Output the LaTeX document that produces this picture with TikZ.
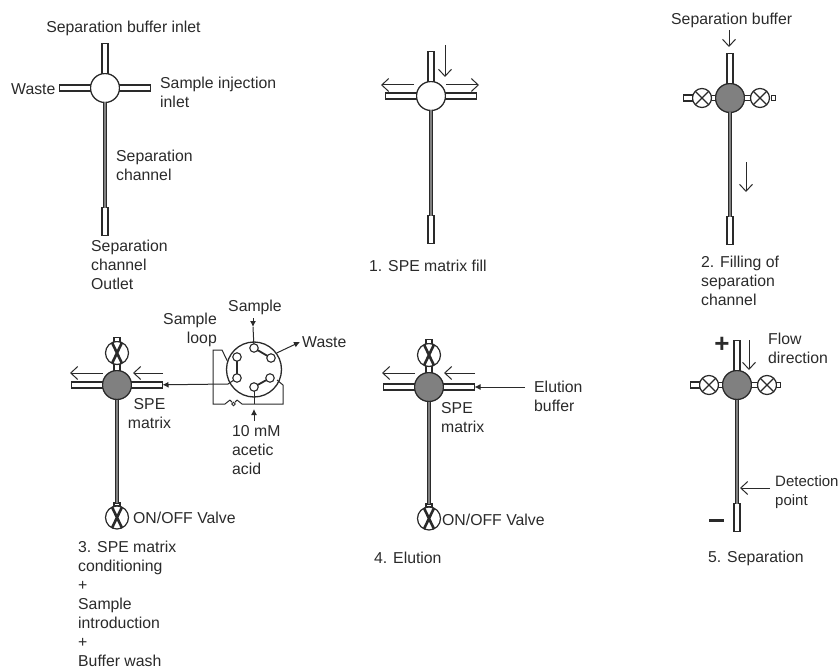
\documentclass[tikz,border=0pt]{standalone}
\usepackage{fontspec}
\setmainfont{Liberation Sans}
\usetikzlibrary{positioning,arrows.meta}
\definecolor{ink}{HTML}{2A2A2A}
\definecolor{matrixfill}{HTML}{808080}
\begin{document}
\begin{tikzpicture}[
        x=1pt, y=-1pt,
        every node/.style = {text=ink},
        hub/.style = {circle, draw=ink, line width=1.3pt, fill=white, minimum size=29pt, inner sep=0pt, outer sep=0pt}, % Узел креста
        spe/.style = {hub, fill=matrixfill},
        htube/.style = {rectangle, draw=ink, line width=1.2pt, fill=white, minimum width=31pt, minimum height=6pt, inner sep=0pt, outer sep=0pt},
        vtube/.style = {rectangle, draw=ink, line width=1.2pt, fill=white, minimum width=6pt, minimum height=30pt, inner sep=0pt, outer sep=0pt},
        stub/.style = {rectangle, draw=ink, line width=1.2pt, fill=white, inner sep=0pt, outer sep=0pt},
        valve/.style = {circle, draw=ink, line width=1.2pt, fill=white, minimum size=19pt, inner sep=0pt, outer sep=0pt,
                path picture={\draw[ink, line width=1.3pt] (path picture bounding box.north west) -- (path picture bounding box.south east)
                        (path picture bounding box.north east) -- (path picture bounding box.south west);}},
        shut/.style = {circle, draw=ink, line width=1.2pt, fill=white, minimum size=23pt, inner sep=0pt, outer sep=0pt,
                path picture={\draw[ink, line width=2.6pt] ([xshift=6pt]path picture bounding box.north west) -- ([xshift=-6pt]path picture bounding box.south east)
                        ([xshift=-6pt]path picture bounding box.north east) -- ([xshift=6pt]path picture bounding box.south west);}},
        channel/.style = {draw=ink, line width=1pt, double=matrixfill, double distance=2.6pt},
        flow/.style = {draw=ink, line width=1pt, -{Straight Barb[length=7pt,width=13pt]}},
        feed/.style = {draw=ink, line width=1pt, -{Latex[length=6pt,width=6pt]}},
        plumb/.style = {draw=ink, line width=1pt},
        port/.style = {circle, draw=ink, line width=1.1pt, fill=white, minimum size=8.5pt, inner sep=0pt, outer sep=0pt},
        bridge/.style = {draw=ink, line width=1.8pt},
        txt/.style = {anchor=west, align=left, inner sep=0pt, font=\fontsize{15.8}{19}\selectfont},
        sign/.style = {inner sep=0pt, font=\bfseries\fontsize{26}{26}\selectfont},
    ]
    \useasboundingbox (0,0) rectangle (839,669);

    % Схема чипа
    \node[hub] (hubA) at (105,88) {};
    \node[vtube, above=0pt of hubA] (topA) {};
    \node[htube, left=0pt of hubA] (leftA) {};
    \node[htube, right=0pt of hubA] (rightA) {};
    \node[vtube, minimum height=28pt, below=105pt of hubA] (outA) {};
    \draw[channel] (hubA) -- (outA);
    \node[txt, anchor=center] (lblA1) at (123.5,28) {Separation buffer inlet};
    \node[txt] (lblA2) at (11,89) {Waste};
    \node[txt] (lblA3) at (160,92.5) {Sample injection\\inlet};
    \node[txt] (lblA4) at (116,165) {Separation\\channel};
    \node[txt] (lblA5) at (91,265) {Separation\\channel\\Outlet};

    % 1
    \node[hub] (hubB) at (431,96) {};
    \node[vtube, above=0pt of hubB] (topB) {};
    \node[htube, left=0pt of hubB] (leftB) {};
    \node[htube, right=0pt of hubB] (rightB) {};
    \node[vtube, minimum height=28pt, below=105pt of hubB] (outB) {};
    \draw[channel] (hubB) -- (outB);
    \coordinate (flowB1) at (445,45);
    \coordinate (flowB2) at (445,77);
    \coordinate (flowB3) at (414,85);
    \coordinate (flowB4) at (381,85);
    \coordinate (flowB5) at (446,85);
    \coordinate (flowB6) at (479,85);
    \draw[flow] (flowB1) -- (flowB2);
    \draw[flow] (flowB3) -- (flowB4);
    \draw[flow] (flowB5) -- (flowB6);
    \node[txt] (lblB1) at (369,266) {1. SPE matrix fill};

    % 2
    \node[spe] (hubC) at (730,98) {};
    \node[vtube, above=0pt of hubC] (topC) {};
    \node[stub, minimum width=4pt, minimum height=5pt, left=0pt of hubC] (lnkC1) {};
    \node[valve, left=0pt of lnkC1] (valC1) {};
    \node[stub, minimum width=9pt, minimum height=6pt, left=0pt of valC1] (endC1) {};
    \node[stub, minimum width=6pt, minimum height=5pt, right=0pt of hubC] (lnkC2) {};
    \node[valve, right=0pt of lnkC2] (valC2) {};
    \node[stub, minimum width=4pt, minimum height=5pt, right=2pt of valC2] (endC2) {};
    \node[vtube, minimum height=28pt, below=104pt of hubC] (outC) {};
    \draw[channel] (hubC) -- (outC);
    \coordinate (flowC1) at (729,30);
    \coordinate (flowC2) at (729,47);
    \coordinate (flowC3) at (746,162);
    \coordinate (flowC4) at (746,192);
    \draw[flow] (flowC1) -- (flowC2);
    \draw[flow] (flowC3) -- (flowC4);
    \node[txt] (lblC1) at (671,20) {Separation buffer};
    \node[txt] (lblC2) at (701,281) {2. Filling of\\separation\\channel};

    % 3
    \node[spe] (hubD) at (117,385) {};
    \node[stub, minimum width=6pt, minimum height=6pt, above=0pt of hubD] (lnkD1) {};
    \node[shut, above=0pt of lnkD1] (valD1) {};
    \node[stub, minimum width=6pt, minimum height=4pt, above=0pt of valD1] (endD1) {};
    \node[htube, left=0pt of hubD] (leftD) {};
    \node[htube, right=0pt of hubD] (rightD) {};
    \node[stub, minimum width=6pt, minimum height=3pt, below=103.5pt of hubD] (lnkD2) {};
    \node[shut, below=0pt of lnkD2] (valD2) {};
    \draw[channel] (hubD) -- (lnkD2);
    \coordinate (flowD1) at (103,373);
    \coordinate (flowD2) at (70,373);
    \coordinate (flowD3) at (163,373);
    \coordinate (flowD4) at (133,373);
    \draw[flow] (flowD1) -- (flowD2);
    \draw[flow] (flowD3) -- (flowD4);
    \node[txt, align=center, anchor=center] (lblD1) at (149.5,414) {SPE\\matrix};
    \node[txt] (lblD2) at (133,518) {ON/OFF Valve};
    \node[txt] (lblD3) at (78,604) {3. SPE matrix\\conditioning\\+\\Sample\\introduction\\+\\Buffer wash};

    % Петля и кран ввода пробы
    \node[circle, draw=ink, line width=1.3pt, minimum size=55pt, inner sep=0pt] (loopOut) at (254,369.5) {};
    \node[port] (portA) at (254,348) {};
    \node[port] (portB) at (271,358) {};
    \node[port] (portC) at (270,378) {};
    \node[port] (portD) at (254,387) {};
    \node[port] (portE) at (237,378) {};
    \node[port] (portF) at (237,357) {};
    \draw[bridge] (portA) -- (portB);
    \draw[bridge] (portC) -- (portD);
    \draw[bridge] (portE) -- (portF);
    \coordinate (smpA) at (253,318);
    \coordinate (smpB) at (253,327);
    \coordinate (wstA) at (300,342);
    \coordinate (acdA) at (254,421);
    \coordinate (acdB) at (254,409);
    \coordinate (jntA) at (254,404);
    \coordinate (lpA) at (222,350);
    \coordinate (lpB) at (213,350);
    \coordinate (lpC) at (213,404);
    \coordinate (lpD) at (225,404);
    \coordinate (lpE) at (242,404);
    \coordinate (lpF) at (283,404);
    \coordinate (lpG) at (283,385);
    \coordinate (lpH) at (277,380);
    \coordinate (lpI) at (228,384);
    \coordinate (bumpA) at (230,400);
    \coordinate (bumpB) at (237,400);
    \draw[feed] (smpA) -- (smpB);
    \draw[plumb] (smpB) -- (portA);
    \draw[feed] (loopOut.36) -- (wstA);
    \draw[feed] (acdA) -- (acdB);
    \draw[plumb] (portD) -- (jntA);
    \draw[plumb] (loopOut.162) -- (lpA) -- (lpB) -- (lpC) -- (lpD) -- (bumpA);
    \draw[plumb] (bumpB) -- (lpE) -- (lpF) -- (lpG) -- (lpH);
    \node[circle, draw=ink, line width=1pt, minimum width=3.5pt, minimum height=3.5pt, inner sep=0pt] (bumpO) at (233.5,404) {};
    \draw[plumb] (bumpA) -- (bumpO);
    \draw[plumb] (bumpB) -- (bumpO);
    \draw[feed] (portE) -- (lpI) -- (rightD);
    \node[txt, anchor=center] (lblE1) at (255,307) {Sample};
    \node[txt, align=right, anchor=east] (lblE2) at (217,330) {Sample\\loop};
    \node[txt] (lblE3) at (302,342) {Waste};
    \node[txt] (lblE4) at (232,450) {10 mM\\acetic\\acid};

    % 4
    \node[spe] (hubF) at (429,387) {};
    \node[stub, minimum width=6pt, minimum height=6pt, above=0pt of hubF] (lnkF1) {};
    \node[shut, above=0pt of lnkF1] (valF1) {};
    \node[stub, minimum width=6pt, minimum height=4pt, above=0pt of valF1] (endF1) {};
    \node[htube, left=0pt of hubF] (leftF) {};
    \node[htube, right=0pt of hubF] (rightF) {};
    \node[stub, minimum width=6pt, minimum height=3pt, below=102.5pt of hubF] (lnkF2) {};
    \node[shut, below=0pt of lnkF2] (valF2) {};
    \draw[channel] (hubF) -- (lnkF2);
    \coordinate (flowF1) at (415,373);
    \coordinate (flowF2) at (382,373);
    \coordinate (flowF3) at (475,373);
    \coordinate (flowF4) at (444,373);
    \coordinate (feedF1) at (525,387);
    \draw[flow] (flowF1) -- (flowF2);
    \draw[flow] (flowF3) -- (flowF4);
    \draw[feed] (feedF1) -- (rightF);
    \node[txt] (lblF1) at (534,396) {Elution\\buffer};
    \node[txt] (lblF2) at (441,417.5) {SPE\\matrix};
    \node[txt] (lblF3) at (442,520) {ON/OFF Valve};
    \node[txt] (lblF4) at (374,558) {4. Elution};

    % 5
    \node[spe] (hubG) at (737,385) {};
    \node[vtube, above=0pt of hubG] (topG) {};
    \node[stub, minimum width=4pt, minimum height=5pt, left=0pt of hubG] (lnkG1) {};
    \node[valve, left=0pt of lnkG1] (valG1) {};
    \node[stub, minimum width=9pt, minimum height=6pt, left=0pt of valG1] (endG1) {};
    \node[stub, minimum width=6pt, minimum height=5pt, right=0pt of hubG] (lnkG2) {};
    \node[valve, right=0pt of lnkG2] (valG2) {};
    \node[stub, minimum width=4pt, minimum height=5pt, right=0pt of valG2] (endG2) {};
    \node[vtube, minimum height=28pt, below=104pt of hubG] (outG) {};
    \draw[channel] (hubG) -- (outG);
    \coordinate (flowG1) at (749,340);
    \coordinate (flowG2) at (749,370);
    \coordinate (flowG3) at (770,488);
    \coordinate (flowG4) at (740,488);
    \draw[flow] (flowG1) -- (flowG2);
    \draw[flow] (flowG3) -- (flowG4);
    \node[sign] (plusG) at (722,345) {+};
    \node[sign] (minusG) at (716.5,520) {\rule{15pt}{3pt}};
    \node[txt] (lblG1) at (768,348.5) {Flow\\direction};
    \node[txt, font=\fontsize{15}{19}\selectfont] (lblG2) at (775,492.5) {Detection\\point};
    \node[txt] (lblG3) at (708,558) {5. Separation};
\end{tikzpicture}
\end{document}
